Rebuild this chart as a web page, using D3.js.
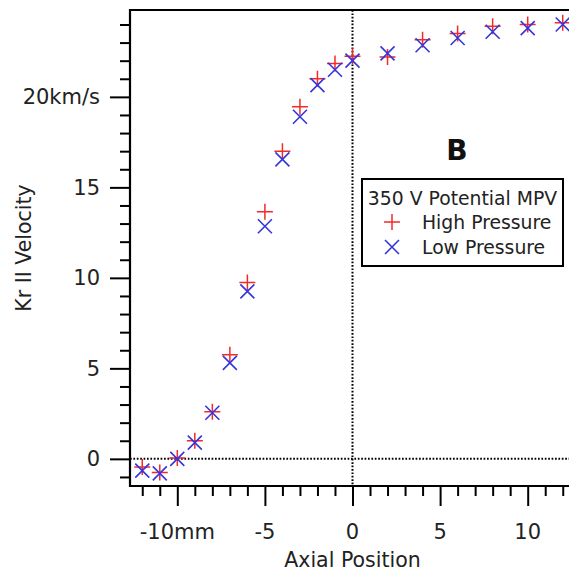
<!DOCTYPE html>
<html>
<head>
<meta charset="utf-8">
<script src="https://cdn.jsdelivr.net/npm/d3@7"></script>
<style>
  body { margin: 0; background: #fff; }
  svg { display: block; font-family: "DejaVu Sans", sans-serif; }
</style>
</head>
<body>
<svg id="chart" width="569" height="572"></svg>
<script>
// axial positions (mm)
const positions = [-12, -11, -10, -9, -8, -7, -6, -5, -4, -3, -2, -1, 0, 2, 4, 6, 8, 10, 12];
// Kr II velocity (km/s)
const highPressure = [-0.45, -0.75, 0.05, 1.0, 2.6, 5.75, 9.75, 13.65, 17.0, 19.45, 21.0, 21.85, 22.25, 22.2, 23.15, 23.5, 23.9, 24.0, 24.1];
const lowPressure = [-0.65, -0.8, 0.0, 0.9, 2.55, 5.3, 9.25, 12.85, 16.55, 18.9, 20.65, 21.5, 22.0, 22.4, 22.85, 23.25, 23.6, 23.8, 24.0];

const xMajor = [-10, -5, 0, 5, 10];
const xMajorLabels = ["-10mm", "-5", "0", "5", "10"];
const yMajor = [0, 5, 10, 15, 20];
const yMajorLabels = ["0", "5", "10", "15", "20km/s"];

const red = "#f22a2a";
const blue = "#3535dc";

const svg = d3.select("#chart");
const plotLeft = 130, plotTop = 10, plotBottom = 486, plotRight = 575;

const x = d3.scaleLinear().domain([-12.7, 12.7]).range([plotLeft, plotRight]);
const y = d3.scaleLinear().domain([-1.5, 24.8]).range([plotBottom, plotTop]);

// zero lines
svg.append("line")
  .attr("x1", x(0)).attr("x2", x(0)).attr("y1", plotTop).attr("y2", plotBottom)
  .attr("stroke", "#000").attr("stroke-width", 2).attr("stroke-dasharray", "1.7,1.7");
svg.append("line")
  .attr("x1", plotLeft).attr("x2", plotRight).attr("y1", y(0)).attr("y2", y(0))
  .attr("stroke", "#000").attr("stroke-width", 2).attr("stroke-dasharray", "1.7,1.7");

// axes
const xAxis = svg.append("g").attr("transform", `translate(0,${plotBottom})`);
xAxis.call(d3.axisBottom(x).tickValues(d3.range(-12, 13)).tickSize(10).tickFormat(""));
xAxis.call(g => g.selectAll(".tick line").filter(d => xMajor.includes(d)).attr("y2", 20));
xAxis.call(g => g.select(".domain").remove());

const yAxis = svg.append("g").attr("transform", `translate(${plotLeft},0)`);
yAxis.call(d3.axisLeft(y).tickValues(d3.range(-1, 25)).tickSize(10).tickFormat(""));
yAxis.call(g => g.selectAll(".tick line").filter(d => yMajor.includes(d)).attr("x2", -20));
yAxis.call(g => g.select(".domain").remove());
svg.selectAll(".tick line").attr("stroke", "#000").attr("stroke-width", 2);

// frame lines
svg.append("path")
  .attr("d", `M${plotRight},${plotTop}H${plotLeft}V${plotBottom}H${plotRight}`)
  .attr("fill", "none").attr("stroke", "#000").attr("stroke-width", 2.2);

// tick labels
svg.append("g").selectAll("text").data(xMajor).join("text")
  .attr("x", d => x(d)).attr("y", 539)
  .attr("text-anchor", "middle").attr("font-size", 21).attr("fill", "#222")
  .text((d, i) => xMajorLabels[i]);
svg.append("g").selectAll("text").data(yMajor).join("text")
  .attr("x", 100).attr("y", d => y(d)).attr("dy", "0.36em")
  .attr("text-anchor", "end").attr("font-size", 21).attr("fill", "#222")
  .text((d, i) => yMajorLabels[i]);

// axis titles
svg.append("text")
  .attr("x", (plotLeft + 569) / 2 + 3).attr("y", 567)
  .attr("text-anchor", "middle").attr("font-size", 20.5).attr("fill", "#222")
  .text("Axial Position");
svg.append("text")
  .attr("transform", `translate(31,248) rotate(-90)`)
  .attr("text-anchor", "middle").attr("font-size", 20.5).attr("fill", "#222")
  .text("Kr II Velocity");

// markers
const plus = (g, s) => g.append("path").attr("d", `M${-s},0H${s}M0,${-s}V${s}`);
const cross = (g, s) => g.append("path").attr("d", `M${-s},${-s}L${s},${s}M${-s},${s}L${s},${-s}`);

svg.append("g").selectAll("g").data(positions).join("g")
  .attr("transform", (d, i) => `translate(${x(d)},${y(highPressure[i])})`)
  .each(function () { plus(d3.select(this), 8); })
  .attr("stroke", red).attr("stroke-width", 1.5).attr("fill", "none");

svg.append("g").selectAll("g").data(positions).join("g")
  .attr("transform", (d, i) => `translate(${x(d)},${y(lowPressure[i])})`)
  .each(function () { cross(d3.select(this), 7); })
  .attr("stroke", blue).attr("stroke-width", 1.6).attr("fill", "none");

// panel letter
svg.append("text")
  .attr("x", 457).attr("y", 160).attr("text-anchor", "middle")
  .attr("font-size", 28).attr("font-weight", "bold").attr("fill", "#111")
  .text("B");

// legend
const lg = svg.append("g");
lg.append("rect").attr("x", 362).attr("y", 179).attr("width", 201).attr("height", 87)
  .attr("fill", "#fff").attr("stroke", "#000").attr("stroke-width", 2);
lg.append("text").attr("x", 462.5).attr("y", 205).attr("text-anchor", "middle")
  .attr("font-size", 18.8).attr("fill", "#222").text("350 V Potential MPV");
const lp = lg.append("g").attr("transform", "translate(392,222)")
  .attr("stroke", red).attr("stroke-width", 1.5).attr("fill", "none");
plus(lp, 8);
const lc = lg.append("g").attr("transform", "translate(392,247)")
  .attr("stroke", blue).attr("stroke-width", 1.6).attr("fill", "none");
cross(lc, 7);
lg.append("text").attr("x", 422).attr("y", 229).attr("font-size", 18.8).attr("fill", "#222").text("High Pressure");
lg.append("text").attr("x", 422).attr("y", 254).attr("font-size", 18.8).attr("fill", "#222").text("Low Pressure");
</script>
</body>
</html>
